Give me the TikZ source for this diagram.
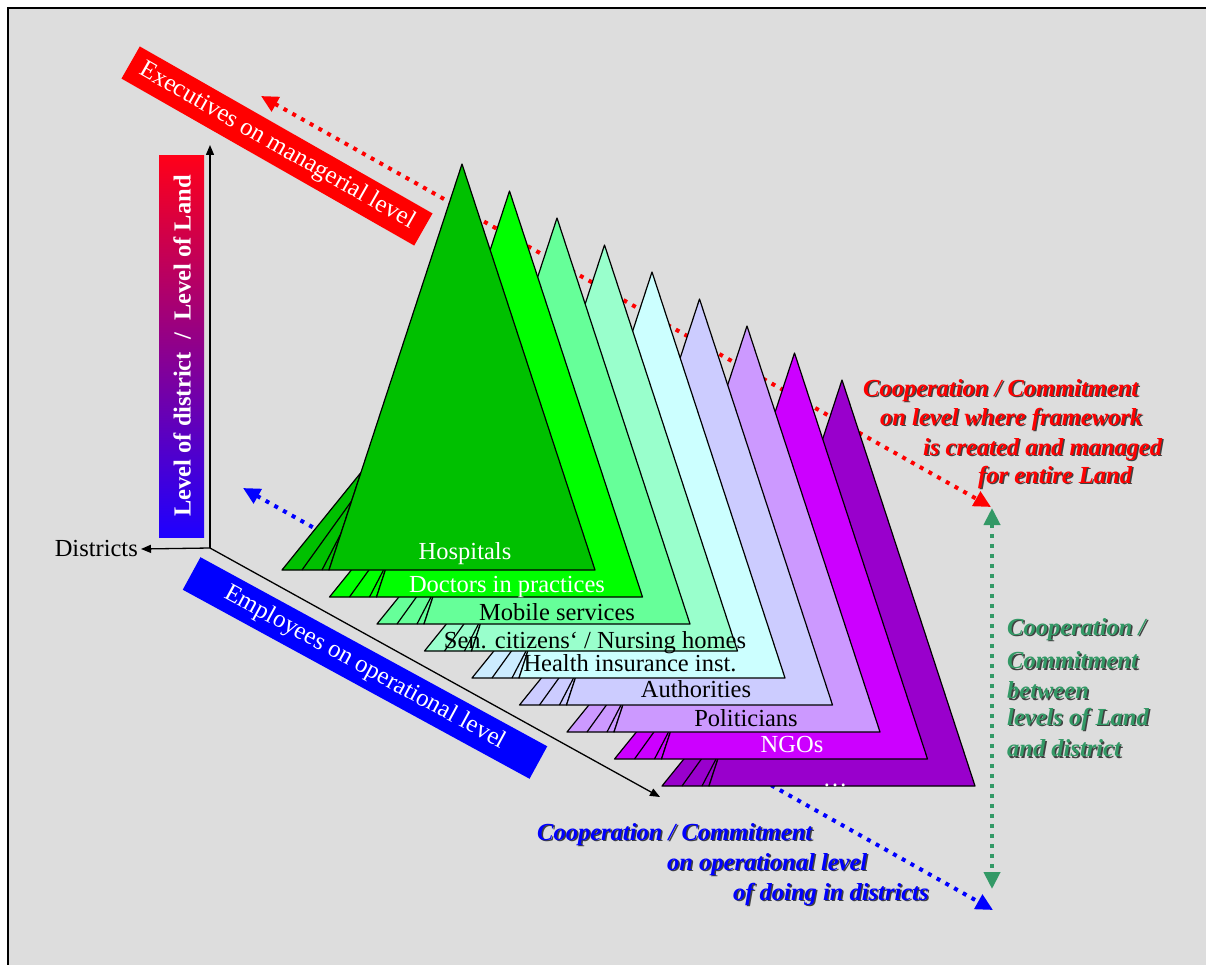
\documentclass[tikz,border=0pt]{standalone}
\usepackage{fontspec}
\setmainfont{Liberation Serif}
\usetikzlibrary{arrows.meta,calc}

\definecolor{bggray}{RGB}{221,221,221}
\definecolor{hosp}{RGB}{0,192,0}
\definecolor{doct}{RGB}{0,255,0}
\definecolor{mobil}{RGB}{102,255,153}
\definecolor{senior}{RGB}{153,255,204}
\definecolor{health}{RGB}{204,255,255}
\definecolor{healthside}{RGB}{204,236,255}
\definecolor{auth}{RGB}{204,204,255}
\definecolor{polit}{RGB}{204,153,255}
\definecolor{ngo}{RGB}{204,0,255}
\definecolor{other}{RGB}{153,0,204}
\definecolor{coopgreen}{RGB}{51,153,102}
\definecolor{bartop}{RGB}{255,0,25}
\definecolor{barmid}{RGB}{190,0,190}
\definecolor{barbot}{RGB}{30,0,255}

\tikzset{
  lab/.style={font=\fontsize{24.5}{29}\selectfont, inner sep=0pt},
  banner/.style={text=white, font=\fontsize{25}{30}\selectfont, inner sep=0pt},
  coop/.style={font=\fontsize{24.5}{29}\selectfont\bfseries\itshape, inner sep=0pt, anchor=west},
  axis/.style={line width=1.3pt, -{Triangle[length=10pt,width=8pt]}},
  dotarrow/.style={line width=4pt, dash pattern=on 4pt off 6pt,
    {Triangle[length=17pt,width=16pt]}-{Triangle[length=17pt,width=16pt]}},
  pyr/.style={draw=black, line width=1.2pt, line join=round},
}

% pyramid: index, front colour, side colour, text colour, label, label x, label baseline
\newcommand\pyramid[7]{%
  \pgfmathsetmacro\ax{462+47.5*#1}
  \pgfmathsetmacro\ay{164+27*#1}
  \coordinate (apex#1) at (\ax,\ay);
  \coordinate (bl#1) at (\ax-133,\ay+406);
  \coordinate (br#1) at (\ax+133,\ay+406);
  \filldraw[pyr, fill=#3] ($(bl#1)+(-47,0)$) -- ($(bl#1)!0.24!(apex#1)$) -- (bl#1) -- cycle;
  \draw[pyr] ($(bl#1)+(-27,0)$) -- ($(bl#1)!0.17!(apex#1)$);
  \draw[pyr] ($(bl#1)+(-7,0)$) -- ($(bl#1)!0.09!(apex#1)$);
  \filldraw[pyr, fill=#2] (apex#1) -- (bl#1) -- (br#1) -- cycle;
  \node[lab, text=#4, anchor=base] (lab#1) at (#6,#7) {#5};
}

% text with a dark shadow behind it
\newcommand\shadowed[2]{%
  \makebox[0pt][l]{\kern1.5pt\raisebox{-1.5pt}{\color{black!75}#2}}{\color{#1}#2}}

\begin{document}
\begin{tikzpicture}[x=1pt,y=-1pt]
  \useasboundingbox (0,0) rectangle (1206,965);
  \fill[white] (0,0) rectangle (1206,965);
  \fill[bggray] (8,8) rectangle (1206,965);
  \draw[line width=2.5pt] (8,965) -- (8,8) -- (1206,8);

  % dotted connectors behind the pyramids
  \coordinate (redA) at (261,96);
  \coordinate (redB) at (991,507);
  \coordinate (bluA) at (243,488);
  \coordinate (bluB) at (993,910);
  \coordinate (grnA) at (992,508);
  \coordinate (grnB) at (992,889);
  \draw[dotarrow, red] (redA) -- (redB);
  \draw[dotarrow, blue] (bluA) -- (bluB);
  \draw[dotarrow, coopgreen] (grnA) -- (grnB);

  % pyramids, back to front
  \pyramid{8}{other}{other}{white}{\ldots}{835}{786}
  \pyramid{7}{ngo}{ngo}{white}{NGOs}{792}{752}
  \pyramid{6}{polit}{polit}{black}{Politicians}{746}{726}
  \pyramid{5}{auth}{auth}{black}{Authorities}{696}{697}
  \pyramid{4}{health}{healthside}{black}{Health insurance inst.}{630}{671}
  \pyramid{3}{senior}{senior}{black}{Sen. citizens‘ / Nursing homes}{595}{648}
  \pyramid{2}{mobil}{mobil}{black}{Mobile services}{557}{620}
  \pyramid{1}{doct}{doct}{white}{Doctors in practices}{507}{592}
  \pyramid{0}{hosp}{hosp}{white}{Hospitals}{465}{559}

  % axes
  \coordinate (O) at (210,548);
  \coordinate (up) at (210,145);
  \coordinate (diag) at (660,797);
  \node[lab, anchor=east, inner sep=3pt] (dist) at (141,549) {Districts};
  \draw[axis] (O) -- (up);
  \draw[axis] (O) -- (dist.east);
  \draw[axis] (O) -- (diag);

  % level bar
  \shade[top color=bartop, middle color=barmid, bottom color=barbot] (159,156) rectangle (204,537);
  \node[rotate=90, text=white, inner sep=0pt, font=\fontsize{24.5}{29}\selectfont\bfseries]
    (lvl) at (182,346) {Level of district \ / \ Level of Land};

  % banners
  \node[banner, fill=red, rotate=-29.7, minimum width=337pt, minimum height=37pt]
    (exec) at (277,146) {Executives on managerial level};
  \node[banner, fill=blue, rotate=-28.6, minimum width=395pt, minimum height=37pt]
    (empl) at (365,668) {Employees on operational level};

  % cooperation texts
  \node[coop] (rA) at (863,391) {\shadowed{red}{Cooperation / Commitment}};
  \node[coop] (rB) at (880,420) {\shadowed{red}{on level where framework}};
  \node[coop] (rC) at (923,450) {\shadowed{red}{is created and managed}};
  \node[coop] (rD) at (978,478) {\shadowed{red}{for entire Land}};
  \node[coop] (gA) at (1007,630) {\shadowed{coopgreen}{Cooperation /}};
  \node[coop] (gB) at (1007,661) {\shadowed{coopgreen}{Commitment}};
  \node[coop] (gC) at (1007,691) {\shadowed{coopgreen}{between}};
  \node[coop] (gD) at (1007,720) {\shadowed{coopgreen}{levels of Land}};
  \node[coop] (gE) at (1007,749) {\shadowed{coopgreen}{and district}};
  \node[coop] (bA) at (537,835) {\shadowed{blue}{Cooperation / Commitment}};
  \node[coop] (bB) at (667,865) {\shadowed{blue}{on operational level}};
  \node[coop] (bC) at (733,895) {\shadowed{blue}{of doing in districts}};
\end{tikzpicture}
\end{document}
